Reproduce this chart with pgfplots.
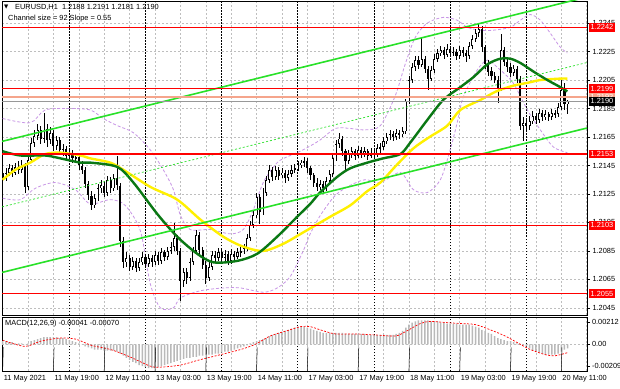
\documentclass[border=0pt]{standalone}
\usepackage{fontspec}
\setmainfont{Liberation Sans}
\newfontfamily\dejavu{DejaVu Sans}
\usepackage{pgfplots}
\pgfplotsset{compat=1.18}
\usepackage{pgfplotstable}
\definecolor{lvlred}{RGB}{255,0,0}
\definecolor{darkma}{RGB}{10,120,20}
\definecolor{yellowma}{RGB}{255,240,0}
\definecolor{limec}{RGB}{40,225,40}
\definecolor{bband}{RGB}{200,150,230}
\definecolor{salmonc}{RGB}{245,165,140}
\definecolor{gridc}{RGB}{190,190,190}
\definecolor{histc}{RGB}{185,185,185}
\newcommand\f{\fontsize{7.4}{8.4}\selectfont}

\pgfplotstableread{
i o h l c m
0 1.2140 1.2143 1.2133 1.2136 0.0003
1 1.2136 1.2143 1.2134 1.2140 0.0003
2 1.2140 1.2146 1.2138 1.2143 0.0002
3 1.2143 1.2145 1.2137 1.2140 0.0002
4 1.2140 1.2147 1.2138 1.2144 0.0001
5 1.2144 1.2148 1.2139 1.2142 0.0001
6 1.2142 1.2149 1.2140 1.2145 0.0001
7 1.2145 1.2147 1.2126 1.2130 0.0000
8 1.2130 1.2152 1.2128 1.2149 0.0001
9 1.2149 1.2164 1.2147 1.2161 0.0003
10 1.2161 1.2170 1.2158 1.2166 0.0004
11 1.2166 1.2174 1.2163 1.2170 0.0005
12 1.2170 1.2173 1.2160 1.2164 0.0006
13 1.2164 1.2182 1.2161 1.2171 0.0007
14 1.2171 1.2174 1.2158 1.2163 0.0007
15 1.2163 1.2172 1.2160 1.2168 0.0007
16 1.2168 1.2170 1.2155 1.2159 0.0007
17 1.2159 1.2166 1.2156 1.2163 0.0007
18 1.2163 1.2165 1.2153 1.2156 0.0006
19 1.2156 1.2160 1.2152 1.2157 0.0006
20 1.2157 1.2159 1.2149 1.2152 0.0005
21 1.2152 1.2157 1.2150 1.2154 0.0004
22 1.2154 1.2156 1.2147 1.2150 0.0003
23 1.2150 1.2154 1.2147 1.2151 0.0002
24 1.2151 1.2153 1.2142 1.2145 0.0001
25 1.2145 1.2148 1.2139 1.2142 0.0000
26 1.2142 1.2144 1.2129 1.2132 -0.0002
27 1.2132 1.2134 1.2121 1.2124 -0.0003
28 1.2124 1.2127 1.2114 1.2117 -0.0004
29 1.2117 1.2125 1.2115 1.2122 -0.0005
30 1.2122 1.2132 1.2120 1.2129 -0.0005
31 1.2129 1.2135 1.2126 1.2131 -0.0005
32 1.2131 1.2134 1.2123 1.2126 -0.0006
33 1.2126 1.2138 1.2124 1.2135 -0.0006
34 1.2135 1.2137 1.2126 1.2129 -0.0006
35 1.2129 1.2139 1.2127 1.2136 -0.0006
36 1.2136 1.2152 1.2128 1.2131 -0.0007
37 1.2131 1.2133 1.2088 1.2092 -0.0009
38 1.2092 1.2095 1.2073 1.2077 -0.0011
39 1.2077 1.2084 1.2074 1.2080 -0.0013
40 1.2080 1.2082 1.2071 1.2074 -0.0015
41 1.2074 1.2081 1.2072 1.2078 -0.0017
42 1.2078 1.2080 1.2070 1.2073 -0.0018
43 1.2073 1.2080 1.2071 1.2077 -0.0020
44 1.2077 1.2084 1.2075 1.2081 -0.0021
45 1.2081 1.2083 1.2073 1.2076 -0.0022
46 1.2076 1.2083 1.2074 1.2080 -0.0023
47 1.2080 1.2082 1.2074 1.2077 -0.0023
48 1.2077 1.2085 1.2075 1.2082 -0.0023
49 1.2082 1.2084 1.2075 1.2078 -0.0022
50 1.2078 1.2087 1.2076 1.2084 -0.0021
51 1.2084 1.2086 1.2078 1.2081 -0.0020
52 1.2081 1.2088 1.2079 1.2085 -0.0019
53 1.2085 1.2091 1.2083 1.2088 -0.0018
54 1.2088 1.2105 1.2085 1.2094 -0.0017
55 1.2094 1.2096 1.2082 1.2085 -0.0016
56 1.2085 1.2087 1.2050 1.2064 -0.0015
57 1.2064 1.2073 1.2060 1.2070 -0.0014
58 1.2070 1.2073 1.2062 1.2066 -0.0013
59 1.2066 1.2080 1.2064 1.2077 -0.0013
60 1.2077 1.2088 1.2075 1.2085 -0.0012
61 1.2085 1.2100 1.2083 1.2096 -0.0012
62 1.2096 1.2098 1.2083 1.2086 -0.0011
63 1.2086 1.2088 1.2072 1.2075 -0.0011
64 1.2075 1.2078 1.2062 1.2066 -0.0010
65 1.2066 1.2077 1.2064 1.2074 -0.0010
66 1.2074 1.2085 1.2072 1.2082 -0.0010
67 1.2082 1.2085 1.2077 1.2080 -0.0009
68 1.2080 1.2087 1.2078 1.2084 -0.0009
69 1.2084 1.2086 1.2077 1.2080 -0.0008
70 1.2080 1.2086 1.2078 1.2083 -0.0007
71 1.2083 1.2085 1.2075 1.2078 -0.0007
72 1.2078 1.2086 1.2076 1.2083 -0.0006
73 1.2083 1.2085 1.2078 1.2081 -0.0005
74 1.2081 1.2087 1.2079 1.2084 -0.0004
75 1.2084 1.2088 1.2081 1.2085 -0.0003
76 1.2085 1.2090 1.2083 1.2087 -0.0002
77 1.2087 1.2097 1.2085 1.2094 -0.0001
78 1.2094 1.2106 1.2092 1.2103 0.0001
79 1.2103 1.2114 1.2101 1.2110 0.0002
80 1.2110 1.2126 1.2108 1.2123 0.0003
81 1.2123 1.2125 1.2104 1.2112 0.0004
82 1.2112 1.2129 1.2110 1.2126 0.0005
83 1.2126 1.2138 1.2124 1.2135 0.0006
84 1.2135 1.2145 1.2133 1.2142 0.0008
85 1.2142 1.2144 1.2134 1.2137 0.0009
86 1.2137 1.2145 1.2135 1.2142 0.0010
87 1.2142 1.2144 1.2135 1.2138 0.0011
88 1.2138 1.2143 1.2136 1.2140 0.0012
89 1.2140 1.2142 1.2133 1.2136 0.0013
90 1.2136 1.2142 1.2134 1.2139 0.0014
91 1.2139 1.2145 1.2137 1.2142 0.0015
92 1.2142 1.2146 1.2140 1.2143 0.0016
93 1.2143 1.2148 1.2141 1.2145 0.0017
94 1.2145 1.2149 1.2143 1.2147 0.0017
95 1.2147 1.2151 1.2144 1.2148 0.0017
96 1.2148 1.2150 1.2140 1.2143 0.0016
97 1.2143 1.2145 1.2135 1.2138 0.0015
98 1.2138 1.2140 1.2130 1.2133 0.0014
99 1.2133 1.2136 1.2127 1.2130 0.0013
100 1.2130 1.2135 1.2128 1.2132 0.0012
101 1.2132 1.2134 1.2125 1.2129 0.0011
102 1.2129 1.2137 1.2127 1.2134 0.0011
103 1.2134 1.2142 1.2132 1.2139 0.0011
104 1.2139 1.2153 1.2137 1.2150 0.0011
105 1.2150 1.2163 1.2148 1.2160 0.0011
106 1.2160 1.2168 1.2157 1.2164 0.0011
107 1.2164 1.2166 1.2152 1.2155 0.0011
108 1.2155 1.2157 1.2142 1.2148 0.0010
109 1.2148 1.2156 1.2146 1.2153 0.0010
110 1.2153 1.2158 1.2150 1.2155 0.0010
111 1.2155 1.2157 1.2149 1.2152 0.0010
112 1.2152 1.2159 1.2150 1.2156 0.0010
113 1.2156 1.2158 1.2150 1.2153 0.0010
114 1.2153 1.2158 1.2151 1.2155 0.0010
115 1.2155 1.2157 1.2149 1.2152 0.0009
116 1.2152 1.2157 1.2150 1.2154 0.0009
117 1.2154 1.2157 1.2150 1.2153 0.0009
118 1.2153 1.2160 1.2151 1.2157 0.0009
119 1.2157 1.2161 1.2154 1.2158 0.0009
120 1.2158 1.2165 1.2156 1.2162 0.0009
121 1.2162 1.2168 1.2160 1.2165 0.0009
122 1.2165 1.2170 1.2163 1.2167 0.0009
123 1.2167 1.2169 1.2162 1.2165 0.0009
124 1.2165 1.2171 1.2163 1.2168 0.0010
125 1.2168 1.2170 1.2164 1.2167 0.0011
126 1.2167 1.2172 1.2165 1.2169 0.0013
127 1.2169 1.2192 1.2167 1.2190 0.0016
128 1.2190 1.2208 1.2188 1.2205 0.0019
129 1.2205 1.2217 1.2203 1.2214 0.0021
130 1.2214 1.2222 1.2211 1.2219 0.0022
131 1.2219 1.2222 1.2213 1.2216 0.0023
132 1.2216 1.2235 1.2214 1.2220 0.0023
133 1.2220 1.2222 1.2210 1.2213 0.0023
134 1.2213 1.2215 1.2198 1.2206 0.0023
135 1.2206 1.2215 1.2204 1.2212 0.0022
136 1.2212 1.2223 1.2210 1.2220 0.0022
137 1.2220 1.2227 1.2218 1.2224 0.0022
138 1.2224 1.2229 1.2222 1.2226 0.0021
139 1.2226 1.2228 1.2220 1.2223 0.0021
140 1.2223 1.2230 1.2221 1.2227 0.0020
141 1.2227 1.2229 1.2221 1.2224 0.0020
142 1.2224 1.2228 1.2222 1.2225 0.0020
143 1.2225 1.2227 1.2219 1.2222 0.0020
144 1.2222 1.2229 1.2220 1.2226 0.0019
145 1.2226 1.2228 1.2221 1.2224 0.0019
146 1.2224 1.2226 1.2218 1.2222 0.0019
147 1.2222 1.2232 1.2220 1.2229 0.0019
148 1.2229 1.2237 1.2227 1.2234 0.0018
149 1.2234 1.2241 1.2232 1.2238 0.0017
150 1.2238 1.2245 1.2235 1.2241 0.0016
151 1.2241 1.2243 1.2225 1.2228 0.0014
152 1.2228 1.2230 1.2213 1.2216 0.0013
153 1.2216 1.2219 1.2208 1.2211 0.0011
154 1.2211 1.2214 1.2205 1.2208 0.0010
155 1.2208 1.2211 1.2203 1.2205 0.0008
156 1.2205 1.2208 1.2189 1.2199 0.0006
157 1.2199 1.2237 1.2197 1.2226 0.0005
158 1.2226 1.2228 1.2215 1.2218 0.0004
159 1.2218 1.2221 1.2211 1.2214 0.0003
160 1.2214 1.2217 1.2207 1.2210 0.0003
161 1.2210 1.2216 1.2208 1.2213 0.0002
162 1.2213 1.2215 1.2203 1.2206 0.0001
163 1.2206 1.2208 1.2170 1.2173 0.0000
164 1.2173 1.2179 1.2162 1.2175 -0.0001
165 1.2175 1.2178 1.2169 1.2173 -0.0002
166 1.2173 1.2180 1.2170 1.2176 -0.0004
167 1.2176 1.2183 1.2174 1.2180 -0.0006
168 1.2180 1.2182 1.2174 1.2177 -0.0007
169 1.2177 1.2185 1.2175 1.2182 -0.0008
170 1.2182 1.2184 1.2176 1.2179 -0.0009
171 1.2179 1.2184 1.2177 1.2181 -0.0010
172 1.2181 1.2183 1.2176 1.2179 -0.0010
173 1.2179 1.2185 1.2177 1.2182 -0.0010
174 1.2182 1.2184 1.2178 1.2181 -0.0010
175 1.2181 1.2189 1.2179 1.2186 -0.0009
176 1.2186 1.2205 1.2184 1.2198 -0.0007
177 1.2198 1.2203 1.2184 1.2188 -0.0005
178 1.2188 1.2191 1.2181 1.2190 -0.0004
}\candles

\begin{document}
\begin{tikzpicture}[x=1pt,y=1pt]
\fill[white] (0,0) rectangle (620,388);

% ---------------- main price panel ----------------
\begin{axis}[
  at={(2pt,73pt)}, anchor=south west, scale only axis,
  width=585pt, height=314pt,
  xmin=-0.2, xmax=184.1, ymin=1.2040, ymax=1.22605,
  axis line style={black, line width=0.8pt},
  xtick={0,8,...,184}, xticklabels={},
  x tick style={/pgfplots/major tick length=0pt},
  ytick={1.2045,1.2065,1.2085,1.2105,1.2125,1.2145,1.2165,1.2185,1.2205,1.2225,1.2245},
  ytick pos=right, yticklabel pos=right,
  tick align=outside, major tick length=3pt,
  y tick style={black, line width=0.5pt},
  scaled y ticks=false,
  yticklabel style={font=\f, xshift=-1pt, /pgf/number format/fixed, /pgf/number format/fixed zerofill,
    /pgf/number format/precision=4, /pgf/number format/assume math mode=true},
  grid=major,
  major grid style={gridc, dash pattern=on 2pt off 2pt, line width=0.5pt},
]
% day separators
\pgfplotsinvokeforeach{21,45,69,93,117,141,165}{
  \draw[black, dash pattern=on 1.5pt off 1.5pt, line width=0.7pt] (axis cs:#1,1.2040) -- (axis cs:#1,1.22605);
}
% Bollinger bands
\addplot[bband, dash pattern=on 3pt off 2pt, line width=0.8pt, smooth] coordinates {
(0,1.2178) (8.7,1.2175) (13.4,1.2184) (21.3,1.2185) (27.6,1.2184) (31.7,1.2178) (36.1,1.2173) (41.2,1.2168) (46.5,1.2156) (50.6,1.2142) (53.8,1.2128) (56,1.2110) (59.1,1.2100) (65.4,1.2100) (71.7,1.2097) (75.8,1.2100) (79,1.2114) (82.1,1.2133) (86.5,1.2147) (90.6,1.2152) (94.7,1.2156) (100.1,1.2163) (104.8,1.2171) (109.5,1.2171) (114.2,1.2170) (119,1.2173) (123.7,1.2194) (126.8,1.2216) (130,1.2235) (133.8,1.2245) (138.8,1.2249) (143.2,1.2247) (146.4,1.2242) (150.5,1.2240) (154.6,1.2240) (159.9,1.2242) (163.1,1.2247) (166.2,1.2251) (169.4,1.2247) (172.5,1.2238) (175.7,1.2228) (177.9,1.2224)};
\addplot[bband, dash pattern=on 3pt off 2pt, line width=0.8pt, smooth] coordinates {
(0,1.2122) (5.6,1.2121) (10.3,1.2129) (16.6,1.2133) (22.9,1.2128) (27.6,1.2118) (33.9,1.2121) (38.6,1.2117) (43.4,1.2099) (46.5,1.2062) (49.7,1.2045) (53.8,1.2045) (56,1.2052) (62.3,1.2057) (69.5,1.2059) (74.9,1.2059) (82.1,1.2056) (86.5,1.2059) (90.6,1.2067) (94.7,1.2085) (96.9,1.2097) (100.1,1.2110) (104.8,1.2124) (109.5,1.2131) (114.2,1.2135) (119,1.2133) (125.3,1.2140) (129.4,1.2128) (133.8,1.2126) (137.9,1.2135) (141,1.2156) (143.2,1.2175) (145.1,1.2193) (149.5,1.2212) (152.7,1.2219) (155.8,1.2214) (160.8,1.2203) (165.3,1.2184) (169.4,1.2170) (173.5,1.2158) (177.9,1.2154)};
% candles: wicks
\addplot[draw=none, error bars/.cd, y dir=both, y explicit, error mark=none,
  error bar style={draw=black, line width=0.6pt}]
  table[x=i, y expr={(\thisrow{h}+\thisrow{l})/2}, y error expr={(\thisrow{h}-\thisrow{l})/2}] {\candles};
% candles: bodies
\addplot[draw=none, error bars/.cd, y dir=both, y explicit, error mark=none,
  error bar style={draw=black, line width=2.1pt}]
  table[x=i, y expr={(\thisrow{o}+\thisrow{c})/2}, y error expr={max(abs(\thisrow{o}-\thisrow{c})/2,0.00004)}] {\candles};
\addplot[draw=none, error bars/.cd, y dir=both, y explicit, error mark=none,
  error bar style={draw=white, line width=0.9pt}]
  table[x=i, y expr={(\thisrow{o}+\thisrow{c})/2}, y error expr={max((\thisrow{c}-\thisrow{o})/2-0.00006,0)}] {\candles};
% moving averages
\addplot[yellowma, line width=2.4pt, smooth] coordinates {
(0,1.2135) (4,1.2142) (8.7,1.2147) (13.4,1.2153) (18.2,1.2154) (24.5,1.2152) (27.6,1.2150) (33.9,1.2147) (38,1.2142) (46.5,1.2130) (55,1.2121) (62.3,1.2107) (69.5,1.2095) (75.8,1.2088) (82.1,1.2085) (88.4,1.2090) (94.7,1.2098) (103.2,1.2109) (109.5,1.2117) (114.9,1.2127) (119,1.2133) (124,1.2145) (129.4,1.2157) (134.5,1.2165) (140.1,1.2173) (144.2,1.2184) (150.5,1.2191) (155.5,1.2197) (160.8,1.2201) (165.3,1.2203) (169.4,1.2205) (175.7,1.2206) (177.9,1.2206)};
\addplot[darkma, line width=2.4pt, smooth] coordinates {
(0,1.2155) (5.6,1.2152) (13.4,1.2152) (18.2,1.2150) (24.5,1.2147) (27.6,1.2147) (36.1,1.2144) (41.2,1.2133) (48.7,1.2111) (55.0,1.2095) (61.3,1.2083) (66.4,1.2077) (73.9,1.2078) (80.2,1.2083) (86.5,1.2095) (92.8,1.2109) (96.9,1.2118) (100,1.2126) (105.4,1.2137) (109.5,1.2143) (114.9,1.2147) (119.9,1.2150) (125.3,1.2153) (128.4,1.2161) (133.8,1.2177) (138.8,1.2191) (144.2,1.2200) (148.3,1.2207) (152.7,1.2216) (156.8,1.2220) (159.9,1.2220) (163.1,1.2217) (167.2,1.2211) (171.6,1.2205) (175.7,1.2200) (177.9,1.2197)};
% regression channel
\addplot[limec, line width=1.6pt] coordinates {(-0.2,1.21619) (184.1,1.22633)};
\addplot[limec, line width=1.6pt] coordinates {(-0.2,1.20699) (184.1,1.21713)};
\addplot[limec, line width=0.7pt, dash pattern=on 2pt off 2pt] coordinates {(-0.2,1.21159) (184.1,1.22173)};
% levels
\addplot[gridc!80!black, line width=0.5pt] coordinates {(-0.2,1.2190) (184.1,1.2190)};
\addplot[salmonc, line width=2.4pt] coordinates {(-0.2,1.2193) (184.1,1.2193)};
\addplot[lvlred, line width=1.4pt] coordinates {(-0.2,1.2242) (184.1,1.2242)};
\addplot[lvlred, line width=1.4pt] coordinates {(-0.2,1.2199) (184.1,1.2199)};
\addplot[lvlred, line width=1.4pt] coordinates {(-0.2,1.2153) (184.1,1.2153)};
\addplot[lvlred, line width=1.4pt] coordinates {(-0.2,1.2103) (184.1,1.2103)};
\addplot[lvlred, line width=1.4pt] coordinates {(-0.2,1.2055) (184.1,1.2055)};
\coordinate (LA) at (axis cs:184.1,1.2242);
\coordinate (LB) at (axis cs:184.1,1.2199);
\coordinate (LC) at (axis cs:184.1,1.2153);
\coordinate (LD) at (axis cs:184.1,1.2103);
\coordinate (LE) at (axis cs:184.1,1.2055);
\coordinate (LO) at (axis cs:184.1,1.2193);
\coordinate (LK) at (axis cs:184.1,1.2190);
\end{axis}

% price boxes on the right scale
\tikzset{pbox/.style={anchor=west, font=\f, text=white, inner xsep=2pt, inner ysep=0.5pt, minimum height=8.5pt, xshift=1.5pt}}
\node[pbox, fill=salmonc] at (LO) {1.2193};
\node[pbox, fill=lvlred] at (LA) {1.2242};
\node[pbox, fill=lvlred] at (LB) {1.2199};
\node[pbox, fill=lvlred] at (LC) {1.2153};
\node[pbox, fill=lvlred] at (LD) {1.2103};
\node[pbox, fill=lvlred] at (LE) {1.2055};
\node[pbox, fill=black] at (LK) {1.2190};

% ---------------- MACD panel ----------------
\begin{axis}[
  at={(2pt,17pt)}, anchor=south west, scale only axis,
  width=585pt, height=54pt,
  xmin=-0.2, xmax=184.1, ymin=-0.00257, ymax=0.00263,
  clip=false,
  axis line style={black, line width=0.8pt},
  xtick={0,8,...,184}, xticklabels={},
  x tick style={/pgfplots/major tick length=0pt},
  xmajorgrids, ymajorgrids=false,
  major grid style={gridc, dash pattern=on 2pt off 2pt, line width=0.5pt},
  ytick={-0.00209,0,0.00212}, yticklabels={{\mbox{-0.00209}},{\mbox{0.00}},{\mbox{0.00212}}},
  ytick pos=right, yticklabel pos=right,
  tick align=outside, major tick length=3pt,
  y tick style={black, line width=0.5pt},
  scaled y ticks=false,
  yticklabel style={font=\f, xshift=-1.5pt},
]
\pgfplotsinvokeforeach{21,45,69,93,117,141,165}{
  \draw[black, dash pattern=on 1.5pt off 1.5pt, line width=0.7pt] (axis cs:#1,-0.00257) -- (axis cs:#1,0.00263);
}
\draw[gridc, dash pattern=on 2pt off 2pt, line width=0.5pt] (axis cs:-0.2,0) -- (axis cs:184.1,0);
\addplot[ybar, bar width=1.5pt, fill=histc, draw=none] table[x=i, y=m] {\candles};
\addplot[red, dash pattern=on 2pt off 1.5pt, line width=0.7pt, smooth] coordinates {
(0,0.0004) (7,-0.0002) (12,0.0003) (18,0.0006) (23,0.0005) (28,-0.0001) (34,-0.0005) (40,-0.0012) (46.5,-0.0021) (49.6,-0.0022) (56,-0.0020) (62,-0.0015) (68.6,-0.0010) (75,-0.0005) (79.6,0.0000) (84.3,0.0008) (90.6,0.0014) (93.8,0.0017) (96.9,0.0017) (100,0.0014) (104.8,0.0010) (111,0.0010) (117.4,0.0009) (123.7,0.0008) (126.8,0.0012) (131.6,0.0020) (134.7,0.0022) (139.4,0.0021) (144.2,0.0020) (148.9,0.0019) (153.6,0.0014) (158.3,0.0008) (163.1,0.0000) (166.2,-0.0005) (171,-0.0010) (174.1,-0.0011) (178,-0.0008)};
% time labels
\pgfplotsinvokeforeach{0,16,32,48,64,80,96,112,128,144,160,176}{
  \draw[black, line width=0.5pt] (axis cs:#1,-0.00257) -- ++(0,-3pt);
}
\tikzset{tlab/.style={anchor=north west, font=\f, inner sep=0pt, xshift=1pt, yshift=-4pt}}
\node[tlab] at (axis cs:0,-0.00257) {11 May 2021};
\node[tlab] at (axis cs:16,-0.00257) {11 May 19:00};
\node[tlab] at (axis cs:32,-0.00257) {12 May 11:00};
\node[tlab] at (axis cs:48,-0.00257) {13 May 03:00};
\node[tlab] at (axis cs:64,-0.00257) {13 May 19:00};
\node[tlab] at (axis cs:80,-0.00257) {14 May 11:00};
\node[tlab] at (axis cs:96,-0.00257) {17 May 03:00};
\node[tlab] at (axis cs:112,-0.00257) {17 May 19:00};
\node[tlab] at (axis cs:128,-0.00257) {18 May 11:00};
\node[tlab] at (axis cs:144,-0.00257) {19 May 03:00};
\node[tlab] at (axis cs:160,-0.00257) {19 May 19:00};
\node[tlab] at (axis cs:176,-0.00257) {20 May 11:00};
\end{axis}

% header texts
\node[anchor=west, inner sep=0pt, font=\dejavu\fontsize{5.5}{6}\selectfont] at (4pt,381pt) {▼};
\node[anchor=west, inner sep=0pt, font=\f] at (15pt,381pt) {EURUSD,H1\ \ 1.2188 1.2191 1.2181 1.2190};
\node[anchor=west, inner sep=0pt, font=\f] at (8pt,369pt) {Channel size = 92 Slope = 0.55};
\node[anchor=west, inner sep=0pt, font=\f] at (5pt,64pt) {MACD(12,26,9) -0.00041 -0.00070};

\pgfresetboundingbox
\path[use as bounding box] (0,0) rectangle (620,388);
\end{tikzpicture}
\end{document}
